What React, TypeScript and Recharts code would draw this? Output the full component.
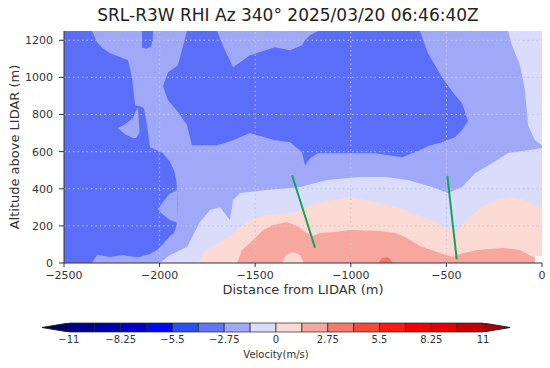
import React from "react";
import {
  ComposedChart,
  Area,
  Line,
  XAxis,
  YAxis,
  ReferenceLine,
  ReferenceArea,
} from "recharts";

// ---------- tick labels ----------
const xTicks = [-2500, -2000, -1500, -1000, -500, 0];
const yTicks = [0, 200, 400, 600, 800, 1000, 1200];
const gridX = [-2000, -1500, -1000, -500];
const gridY = [200, 400, 600, 800, 1000, 1200];

// ---------- contour regions: [distance, low altitude, high altitude] ----------
const mediumBackground = [
  [-2500, 0, 1250],
  [0, 0, 1250],
];
const leftDark = [
  [-2500, 0, 1250], [-2354, 0, 1250], [-2327, 43, 1190], [-2300, 40, 1160],
  [-2259, 32, 1130], [-2191, 43, 1103], [-2165, 38, 1092], [-2144, 35, 995],
  [-2128, 32, 850], [-2103, 32, 845], [-2082, 40, 834], [-2066, 45, 743],
  [-2050, 48, 624], [-2014, 70, 608], [-1982, 102, 592], [-1946, 145, 545],
  [-1925, 160, 500], [-1912, 200, 440], [-1903, 320, 320],
];
const leftTongue = [
  [-2218, 726, 726], [-2181, 694, 748], [-2139, 673, 780], [-2123, 673, 823],
  [-2113, 689, 834], [-2105, 705, 705],
];
const leftNotch = [
  [-2008, 290, 290], [-1985, 262, 325], [-1950, 235, 372], [-1905, 215, 395],
];
const topDarkBlob = [
  [-2092, 1160, 1250], [-2070, 1155, 1250], [-2045, 1165, 1250],
  [-2036, 1200, 1250], [-2034, 1250, 1250],
];
const midDark = [
  [-1982, 952, 952], [-1956, 877, 1028], [-1904, 813, 1065], [-1857, 743, 1250],
  [-1831, 635, 1250], [-1700, 635, 1250], [-1658, 646, 1146], [-1616, 662, 1055],
  [-1527, 700, 1119], [-1396, 662, 1162], [-1318, 651, 1146], [-1255, 597, 1173],
  [-1240, 527, 1200], [-1213, 565, 1227], [-1172, 592, 1250], [-1046, 592, 1250],
  [-873, 592, 1250], [-732, 570, 1250], [-638, 608, 1250], [-596, 630, 1130],
  [-523, 651, 1001], [-455, 678, 904], [-418, 716, 861], [-387, 765, 765],
];
const lightBand = [
  [-1998, 0, 0], [-1946, 0, 43], [-1857, 0, 86], [-1789, 0, 221], [-1736, 0, 285],
  [-1684, 0, 301], [-1653, 0, 258], [-1632, 0, 231], [-1616, 0, 339],
  [-1579, 0, 377], [-1438, 0, 393], [-1266, 0, 409], [-1124, 0, 447],
  [-952, 0, 463], [-821, 0, 463], [-701, 0, 447], [-575, 0, 409], [-492, 0, 377],
  [-418, 0, 409], [-350, 0, 484], [-262, 0, 538], [-178, 0, 592], [-73, 0, 608],
  [0, 0, 619],
];
const lightTopRight = [
  [-178, 1250, 1250], [-157, 1173, 1250], [-115, 1065, 1250], [-89, 931, 1250],
  [-73, 743, 1250], [-37, 662, 1250], [0, 635, 1250],
];
const pinkBand = [
  [-1799, 0, 0], [-1763, 0, 70], [-1721, 0, 91], [-1647, 0, 135], [-1579, 0, 194],
  [-1512, 0, 242], [-1438, 0, 258], [-1302, 0, 269], [-1266, 0, 285],
  [-1177, 0, 323], [-1093, 0, 339], [-1004, 0, 355], [-941, 0, 344],
  [-821, 0, 317], [-701, 0, 280], [-586, 0, 231], [-497, 0, 188], [-445, 0, 172],
  [-387, 0, 242], [-314, 0, 301], [-246, 0, 339], [-167, 0, 355], [-89, 0, 339],
  [-37, 0, 312], [0, 0, 285],
];
const salmonBand = [
  [-1595, 0, 0], [-1569, 0, 70], [-1527, 0, 108], [-1459, 0, 178], [-1407, 0, 204],
  [-1334, 0, 221], [-1281, 0, 199], [-1240, 0, 167], [-1198, 0, 145],
  [-1161, 0, 161], [-1083, 0, 167], [-1004, 0, 178], [-847, 0, 172],
  [-769, 0, 161], [-717, 0, 140], [-638, 0, 91], [-549, 0, 59], [-466, 0, 32],
  [-429, 0, 48], [-340, 0, 70], [-204, 0, 81], [-115, 0, 70], [-47, 0, 32],
  [0, 0, 16],
];
const pinkSpot = [
  [-1360, 0, 0], [-1339, 0, 43], [-1302, 0, 59], [-1266, 0, 43], [-1245, 0, 0],
];
const redSpot = [
  [-858, 0, 0], [-837, 0, 27], [-805, 0, 32], [-779, 0, 0],
];
const noDataCorner = [
  [-37, 0, 38], [0, 0, 38],
];

// ---------- LIDAR beam segments ----------
const beam1 = [
  { x: -1307, y: 473 },
  { x: -1187, y: 82 },
];
const beam2 = [
  { x: -495, y: 470 },
  { x: -446, y: 20 },
];

// ---------- colour bar ----------
const binEdges = [-11, -9.625, -8.25, -6.875, -5.5, -4.125, -2.75, -1.375, 0,
  1.375, 2.75, 4.125, 5.5, 6.875, 8.25, 9.625, 11];
const binColors = [
  "#00008e", "#0000a8", "#0000c8", "#0008f4", "#2a50f8", "#6274f8", "#a0a9f7",
  "#d9dcfa", "#fcdad4", "#f8a79e", "#f47a6c", "#f44a3a", "#fa1a10", "#f40000",
  "#e20000", "#c40000",
];
const barTicks = [-11, -8.25, -5.5, -2.75, 0, 2.75, 5.5, 8.25, 11];
const leftArrow = [
  [-12.43, 0.5, 0.5],
  [-11, 0, 1],
];
const rightArrow = [
  [11, 0, 1],
  [12.43, 0.5, 0.5],
];

const C = {
  dark: "#5b6ef7",
  medium: "#a0a9f7",
  light: "#d9dcfa",
  pink: "#fcdad4",
  salmon: "#f8a79e",
  red: "#f3786b",
  white: "#ffffff",
};

const FONT = '"DejaVu Sans", sans-serif';
const toRows = (arr: number[][]) => arr.map(([x, lo, hi]) => ({ x, r: [lo, hi] }));
const fmt = (v: number) => String(v).replace("-", "\u2212");

const region = (key: string, rows: number[][], color: string, stroke = "none") => (
  <Area
    key={key}
    data={toRows(rows)}
    dataKey="r"
    type="linear"
    stroke={stroke}
    fill={color}
    fillOpacity={1}
    dot={false}
    activeDot={false}
    isAnimationActive={false}
  />
);

export default function App() {
  return (
    <div
      style={{
        position: "absolute",
        left: 0,
        top: 0,
        width: 550,
        height: 368,
        background: "#fff",
        fontFamily: FONT,
      }}
    >
      <div style={{ position: "absolute", left: 0, top: 0 }}>
        <ComposedChart
          width={550}
          height={300}
          margin={{ top: 31, right: 8, bottom: 7, left: 0 }}
        >
          <XAxis
            dataKey="x"
            type="number"
            domain={[-2500, 0]}
            ticks={xTicks}
            allowDataOverflow
            height={30}
            tickSize={4}
            tickMargin={4}
            tickFormatter={fmt}
            stroke="#333"
            tick={{ fontSize: 11, fill: "#333", fontFamily: FONT }}
          />
          <XAxis
            xAxisId="top"
            orientation="top"
            type="number"
            domain={[-2500, 0]}
            height={0}
            tick={false}
            tickLine={false}
            stroke="#333"
          />
          <YAxis
            type="number"
            domain={[0, 1250]}
            ticks={yTicks}
            allowDataOverflow
            width={64}
            tickSize={5}
            tickMargin={6}
            stroke="#333"
            tick={{ fontSize: 11, fill: "#333", fontFamily: FONT }}
          />
          <YAxis
            yAxisId="right"
            orientation="right"
            type="number"
            domain={[0, 1250]}
            width={0}
            tick={false}
            tickLine={false}
            stroke="#333"
          />
          {region("bg", mediumBackground, C.medium)}
          {region("leftDark", leftDark, C.dark)}
          {region("leftTongue", leftTongue, C.medium)}
          {region("leftNotch", leftNotch, C.medium)}
          {region("topBlob", topDarkBlob, C.dark)}
          {region("midDark", midDark, C.dark)}
          {region("lightBand", lightBand, C.light)}
          {region("lightTopRight", lightTopRight, C.light)}
          {region("pinkBand", pinkBand, C.pink)}
          {region("salmonBand", salmonBand, C.salmon)}
          {region("pinkSpot", pinkSpot, C.pink)}
          {region("redSpot", redSpot, C.red)}
          {region("noData", noDataCorner, C.white)}
          {gridX.map((v) => (
            <ReferenceLine
              key={"gx" + v}
              x={v}
              stroke="#c4c6dc"
              strokeDasharray="1.5 3"
              strokeWidth={1}
            />
          ))}
          {gridY.map((v) => (
            <ReferenceLine
              key={"gy" + v}
              y={v}
              stroke="#c4c6dc"
              strokeDasharray="1.5 3"
              strokeWidth={1}
            />
          ))}
          <Line
            data={beam1}
            dataKey="y"
            type="linear"
            stroke="#13a35e"
            strokeWidth={2}
            dot={false}
            activeDot={false}
            isAnimationActive={false}
          />
          <Line
            data={beam2}
            dataKey="y"
            type="linear"
            stroke="#13a35e"
            strokeWidth={2}
            dot={false}
            activeDot={false}
            isAnimationActive={false}
          />
        </ComposedChart>
      </div>

      <div style={{ position: "absolute", left: 0, top: 310 }}>
        <ComposedChart
          width={550}
          height={58}
          margin={{ top: 13, right: 40, bottom: 6, left: 42 }}
        >
          <XAxis
            dataKey="x"
            type="number"
            domain={[-12.43, 12.43]}
            ticks={barTicks}
            allowDataOverflow
            height={30}
            axisLine={false}
            tickLine={false}
            tickSize={0}
            tickMargin={4}
            tickFormatter={fmt}
            tick={{ fontSize: 10, fill: "#333", fontFamily: FONT }}
          />
          <YAxis type="number" domain={[0, 1]} hide allowDataOverflow />
          {binColors.map((c, i) => (
            <ReferenceArea
              key={"bin" + i}
              x1={binEdges[i]}
              x2={binEdges[i + 1]}
              y1={0}
              y2={1}
              fill={c}
              fillOpacity={1}
              stroke="#222"
              strokeWidth={0.7}
            />
          ))}
          {region("la", leftArrow, "#00006a", "#222")}
          {region("ra", rightArrow, "#a80000", "#222")}
        </ComposedChart>
      </div>

      <svg
        width={550}
        height={368}
        style={{ position: "absolute", left: 0, top: 0, pointerEvents: "none" }}
      >
        <text
          x={288}
          y={21}
          textAnchor="middle"
          fontSize={17}
          fill="#222"
          fontFamily={FONT}
        >
          SRL-R3W RHI Az 340° 2025/03/20 06:46:40Z
        </text>
        <text
          x={0}
          y={0}
          transform="translate(14,147) rotate(-90)"
          textAnchor="middle"
          dy="0.36em"
          fontSize={13}
          fill="#333"
          fontFamily={FONT}
        >
          Altitude above LIDAR (m)
        </text>
        <text
          x={303}
          y={294}
          textAnchor="middle"
          fontSize={13}
          fill="#333"
          fontFamily={FONT}
        >
          Distance from LIDAR (m)
        </text>
        <text
          x={276}
          y={357.5}
          textAnchor="middle"
          fontSize={10}
          fill="#333"
          fontFamily={FONT}
        >
          Velocity(m/s)
        </text>
      </svg>
    </div>
  );
}
